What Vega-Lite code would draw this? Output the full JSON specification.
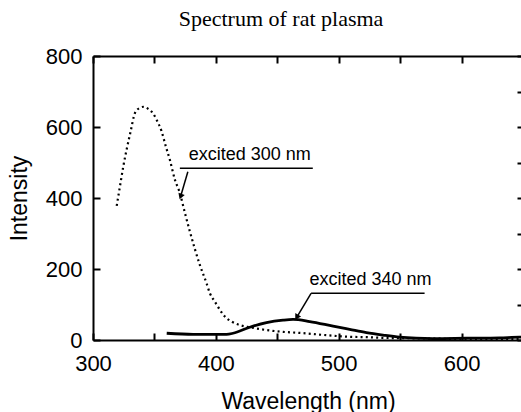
{
  "$schema": "https://vega.github.io/schema/vega-lite/v6.json",
  "autosize": "none",
  "width": 430,
  "height": 284,
  "padding": {"left": 93, "top": 56, "right": 0, "bottom": 72},
  "background": "white",
  "title": {
    "text": "Spectrum of rat plasma",
    "font": "Liberation Serif",
    "fontSize": 22,
    "fontWeight": "normal",
    "color": "black",
    "anchor": "middle",
    "dx": -27,
    "offset": 14
  },
  "config": {
    "view": {"stroke": null},
    "axis": {
      "domainColor": "black",
      "domainWidth": 2,
      "tickColor": "black",
      "tickWidth": 2,
      "grid": false,
      "labelFlush": false,
      "labelFont": "Liberation Sans",
      "labelFontSize": 22,
      "labelColor": "black",
      "titleFont": "Liberation Sans",
      "titleFontSize": 23,
      "titleFontWeight": "normal",
      "titleColor": "black"
    }
  },
  "datasets": {
    "ex300": [
      {"w": 319.3, "I": 378}, {"w": 322, "I": 434}, {"w": 324.6, "I": 488},
      {"w": 327.9, "I": 545}, {"w": 330.6, "I": 587}, {"w": 334.1, "I": 639},
      {"w": 338.2, "I": 654}, {"w": 341.5, "I": 657}, {"w": 345, "I": 651},
      {"w": 348.5, "I": 640}, {"w": 351.8, "I": 620}, {"w": 355.9, "I": 587},
      {"w": 359.3, "I": 545}, {"w": 362.6, "I": 507}, {"w": 366.7, "I": 451},
      {"w": 370.7, "I": 414}, {"w": 374.8, "I": 358}, {"w": 378.9, "I": 305},
      {"w": 387, "I": 211}, {"w": 392.4, "I": 160}, {"w": 395.1, "I": 132},
      {"w": 399.2, "I": 108}, {"w": 403.3, "I": 85}, {"w": 407.3, "I": 66},
      {"w": 412.8, "I": 52}, {"w": 419.5, "I": 42}, {"w": 427.6, "I": 36},
      {"w": 441.2, "I": 28}, {"w": 454.7, "I": 23}, {"w": 468.3, "I": 20},
      {"w": 481.9, "I": 16}, {"w": 495.4, "I": 12}, {"w": 508.9, "I": 9},
      {"w": 522.5, "I": 8}, {"w": 536, "I": 6}, {"w": 555, "I": 5},
      {"w": 575, "I": 4}, {"w": 600, "I": 3}, {"w": 625, "I": 3}, {"w": 650, "I": 3}
    ],
    "ex340": [
      {"w": 360, "I": 19}, {"w": 381.5, "I": 16}, {"w": 408.7, "I": 16},
      {"w": 414, "I": 19}, {"w": 427.6, "I": 36}, {"w": 441.2, "I": 49},
      {"w": 454.7, "I": 56}, {"w": 462.8, "I": 58}, {"w": 476.4, "I": 52},
      {"w": 495.4, "I": 39}, {"w": 508.9, "I": 30}, {"w": 522.5, "I": 21},
      {"w": 536, "I": 14}, {"w": 549.6, "I": 8}, {"w": 563, "I": 5},
      {"w": 576.7, "I": 4}, {"w": 603.8, "I": 5}, {"w": 631, "I": 6},
      {"w": 647, "I": 8}, {"w": 650, "I": 8}
    ],
    "labels": [
      {"label": "excited 300 nm", "w": 427.6, "I": 507},
      {"label": "excited 340 nm", "w": 525.9, "I": 155}
    ],
    "leaders": [
      {"w": 370.7, "w2": 478.9, "I": 484},
      {"w": 477.5, "w2": 569.9, "I": 131.5}
    ],
    "arrows": [
      {"arrow": "a300", "w": 377.2, "I": 474, "w2": 371.3, "I2": 404},
      {"arrow": "a340", "w": 477.5, "I": 131.5, "w2": 465.8, "I2": 64}
    ]
  },
  "resolve": {"axis": {"x": "independent", "y": "independent"}},
  "layer": [
    {
      "layer": [
        {
          "data": {"name": "ex300"},
          "mark": {"type": "line", "color": "black", "strokeWidth": 2.2, "strokeDash": [2, 3.2], "strokeCap": "butt", "interpolate": "monotone"},
          "encoding": {
            "x": {
              "field": "w", "type": "quantitative",
              "scale": {"domain": [300, 650], "nice": false, "zero": false},
              "axis": {
                "orient": "bottom",
                "values": [300, 350, 400, 450, 500, 550, 600, 650],
                "labelExpr": "datum.value % 100 === 0 ? datum.label : ''",
                "tickSize": -7,
                "labelPadding": 20,
                "title": "Wavelength (nm)",
                "titlePadding": 16
              }
            },
            "y": {
              "field": "I", "type": "quantitative",
              "scale": {"domain": [0, 800], "nice": false},
              "axis": {
                "orient": "left",
                "values": [0, 100, 200, 300, 400, 500, 600, 700, 800],
                "labelExpr": "datum.value % 200 === 0 ? datum.label : ''",
                "tickSize": -7,
                "labelPadding": 18,
                "title": "Intensity",
                "titlePadding": 14
              }
            }
          }
        },
        {
          "data": {"name": "labels"},
          "mark": {"type": "text", "font": "Liberation Sans", "fontSize": 18, "color": "black", "align": "center", "baseline": "alphabetic"},
          "encoding": {
            "x": {"field": "w", "type": "quantitative"},
            "y": {"field": "I", "type": "quantitative"},
            "text": {"field": "label"}
          }
        },
        {
          "data": {"name": "leaders"},
          "mark": {"type": "rule", "color": "black", "strokeWidth": 1.5},
          "encoding": {
            "x": {"field": "w", "type": "quantitative"},
            "x2": {"field": "w2"},
            "y": {"field": "I", "type": "quantitative"}
          }
        },
        {
          "data": {"name": "arrows"},
          "mark": {"type": "rule", "color": "black", "strokeWidth": 1.5},
          "encoding": {
            "x": {"field": "w", "type": "quantitative"},
            "x2": {"field": "w2"},
            "y": {"field": "I", "type": "quantitative"},
            "y2": {"field": "I2"}
          }
        },
        {
          "data": {"name": "arrows"},
          "transform": [{"filter": "datum.arrow === 'a300'"}],
          "mark": {"type": "point", "shape": "triangle-down", "filled": true, "color": "black", "size": 45, "angle": 20, "opacity": 1},
          "encoding": {
            "x": {"field": "w2", "type": "quantitative"},
            "y": {"field": "I2", "type": "quantitative"}
          }
        },
        {
          "data": {"name": "arrows"},
          "transform": [{"filter": "datum.arrow === 'a340'"}],
          "mark": {"type": "point", "shape": "triangle-down", "filled": true, "color": "black", "size": 45, "angle": 31, "opacity": 1},
          "encoding": {
            "x": {"field": "w2", "type": "quantitative"},
            "y": {"field": "I2", "type": "quantitative"}
          }
        }
      ]
    },
    {
      "data": {"name": "ex340"},
      "mark": {"type": "line", "color": "black", "strokeWidth": 2.8, "interpolate": "monotone"},
      "encoding": {
        "x": {
          "field": "w", "type": "quantitative",
          "axis": {
            "orient": "top",
            "values": [300, 350, 400, 450, 500, 550, 600, 650],
            "labels": false,
            "tickSize": -7,
            "title": null
          }
        },
        "y": {
          "field": "I", "type": "quantitative",
          "axis": {
            "orient": "right",
            "values": [0, 100, 200, 300, 400, 500, 600, 700, 800],
            "labels": false,
            "tickSize": -6,
            "title": null
          }
        }
      }
    }
  ]
}
